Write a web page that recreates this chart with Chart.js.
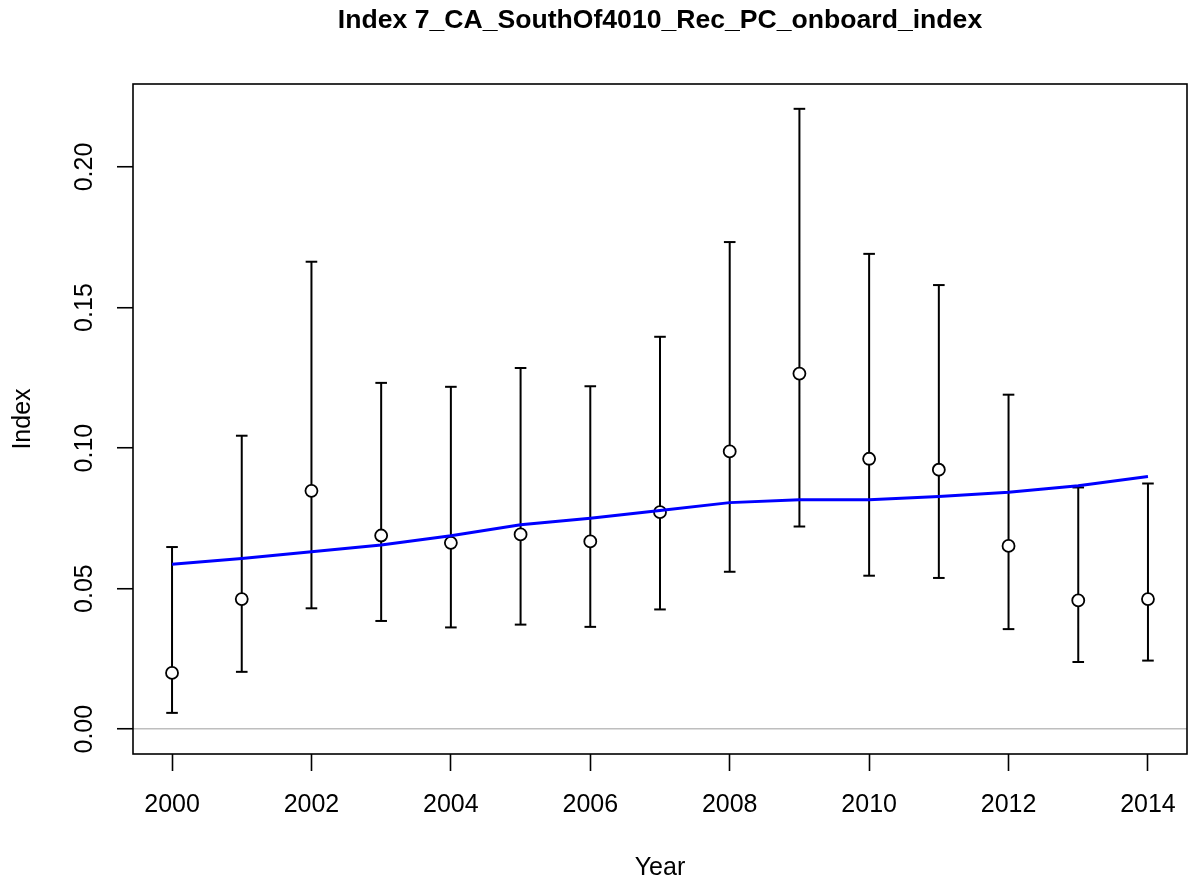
<!DOCTYPE html>
<html>
<head>
<meta charset="utf-8">
<title>Index 7_CA_SouthOf4010_Rec_PC_onboard_index</title>
<script src="https://cdn.jsdelivr.net/npm/chart.js@4/dist/chart.umd.min.js"></script>
<style>
  html, body { margin: 0; padding: 0; background: #fff; }
  canvas { display: block; }
</style>
</head>
<body>
<canvas id="chart" width="1188" height="883"></canvas>
<script>
// Values
const years = [2000, 2001, 2002, 2003, 2004, 2005, 2006, 2007, 2008, 2009, 2010, 2011, 2012, 2013, 2014];
const observed = [0.0200, 0.0463, 0.0848, 0.0689, 0.0663, 0.0693, 0.0668, 0.0772, 0.0988, 0.1265, 0.0962, 0.0923, 0.0652, 0.0458, 0.0463];
const upper = [0.0648, 0.1044, 0.1663, 0.1232, 0.1218, 0.1285, 0.1220, 0.1396, 0.1733, 0.2207, 0.1691, 0.1580, 0.1190, 0.0860, 0.0874];
const lower = [0.0058, 0.0204, 0.0430, 0.0385, 0.0362, 0.0372, 0.0364, 0.0426, 0.0560, 0.0721, 0.0546, 0.0538, 0.0356, 0.0239, 0.0244];
const expected = [0.0587, 0.0607, 0.0631, 0.0655, 0.0688, 0.0727, 0.0750, 0.0778, 0.0806, 0.0816, 0.0816, 0.0828, 0.0843, 0.0866, 0.0899];

const xTicks = [2000, 2002, 2004, 2006, 2008, 2010, 2012, 2014];
const yTicks = [0.00, 0.05, 0.10, 0.15, 0.20];

const chartTitle = 'Index 7_CA_SouthOf4010_Rec_PC_onboard_index';
const xLabel = 'Year';
const yLabel = 'Index';

const FONT = 'Liberation Sans, Arial, sans-serif';
const labelFont = { family: FONT, size: 25 };

// R-style axis ranges: data range padded by 4%
const xMin = 1999.44, xMax = 2014.56;
const yMin = -0.00883, yMax = 0.22953;

// Stems: one segment per year, broken by a null
const stems = [];
years.forEach((yr, i) => {
  stems.push({ x: yr, y: lower[i] });
  stems.push({ x: yr, y: upper[i] });
  stems.push({ x: yr, y: null });
});

const caps = years.map((yr, i) => ({ x: yr, y: upper[i] }))
  .concat(years.map((yr, i) => ({ x: yr, y: lower[i] })));

// Box around the plotting region, like R's box()
const boxPlugin = {
  id: 'box',
  afterDatasetsDraw(chart) {
    const { ctx, chartArea: a } = chart;
    ctx.save();
    ctx.strokeStyle = '#000';
    ctx.lineWidth = 1.6;
    ctx.strokeRect(a.left, a.top, a.right - a.left, a.bottom - a.top);
    ctx.restore();
  }
};

new Chart(document.getElementById('chart'), {
  type: 'line',
  data: {
    datasets: [
      {
        label: 'expected',
        data: years.map((yr, i) => ({ x: yr, y: expected[i] })),
        borderColor: '#0000ff',
        borderWidth: 3,
        pointRadius: 0,
        tension: 0,
        fill: false
      },
      {
        label: 'observed',
        data: years.map((yr, i) => ({ x: yr, y: observed[i] })),
        showLine: false,
        pointStyle: 'circle',
        pointRadius: 6,
        pointBorderWidth: 1.8,
        pointBorderColor: '#000',
        pointBackgroundColor: '#fff'
      },
      {
        label: 'caps',
        data: caps,
        showLine: false,
        pointStyle: 'line',
        pointRadius: 5.8,
        pointBorderWidth: 2,
        pointBorderColor: '#000'
      },
      {
        label: 'interval',
        data: stems,
        borderColor: '#000',
        borderWidth: 2,
        pointRadius: 0,
        spanGaps: false,
        tension: 0
      }
    ]
  },
  options: {
    responsive: false,
    animation: false,
    events: [],
    layout: { autoPadding: false, padding: { left: 0, right: 1, top: 0, bottom: 0 } },
    plugins: {
      legend: { display: false },
      tooltip: { enabled: false }
    },
    scales: {
      // top axis only carries the main title, centred over the plot like R does
      xTop: {
        type: 'linear',
        axis: 'x',
        position: 'top',
        min: xMin,
        max: xMax,
        border: { display: false },
        grid: { display: false, drawTicks: false },
        ticks: { display: false },
        afterFit: s => { s.height = 84; s.paddingLeft = 0; s.paddingRight = 0; },
        title: {
          display: true,
          text: chartTitle,
          color: '#000',
          font: { family: FONT, size: 26.6, weight: 'bold' },
          padding: { top: 4.5, bottom: 0 }
        }
      },
      x: {
        type: 'linear',
        min: xMin,
        max: xMax,
        offset: false,
        border: { display: false },
        grid: { display: true, offset: false, drawOnChartArea: false, drawTicks: true, tickLength: 17, tickColor: '#000', tickWidth: 1.6 },
        afterBuildTicks: s => { s.ticks = xTicks.map(v => ({ value: v })); },
        afterFit: s => { s.height = 129; s.paddingLeft = 0; s.paddingRight = 0; },
        ticks: {
          autoSkip: false,
          minRotation: 0,
          maxRotation: 0,
          padding: 0,
          color: '#000',
          font: { family: FONT, size: 25, lineHeight: 2.72 },
          callback: v => String(v)
        },
        title: {
          display: true,
          text: xLabel,
          color: '#000',
          font: labelFont,
          padding: { top: 0, bottom: 0 }
        }
      },
      y: {
        type: 'linear',
        min: yMin,
        max: yMax,
        border: { display: false },
        grid: {
          drawOnChartArea: true,
          drawTicks: true,
          tickLength: 16,
          tickColor: '#000',
          tickWidth: 1.6,
          lineWidth: 1.5,
          color: c => (c.tick && c.tick.value === 0 ? '#bebebe' : 'rgba(0,0,0,0)')
        },
        afterBuildTicks: s => { s.ticks = yTicks.map(v => ({ value: v })); },
        afterFit: s => { s.width = 133; s.paddingTop = 0; s.paddingBottom = 0; },
        ticks: {
          autoSkip: false,
          minRotation: 90,
          maxRotation: 90,
          crossAlign: 'center',
          padding: 7.5,
          color: '#000',
          font: labelFont,
          callback: v => v.toFixed(2)
        },
        title: {
          display: true,
          text: yLabel,
          color: '#000',
          font: labelFont,
          padding: { top: 8, bottom: 0 }
        }
      }
    }
  },
  plugins: [boxPlugin]
});
</script>
</body>
</html>
